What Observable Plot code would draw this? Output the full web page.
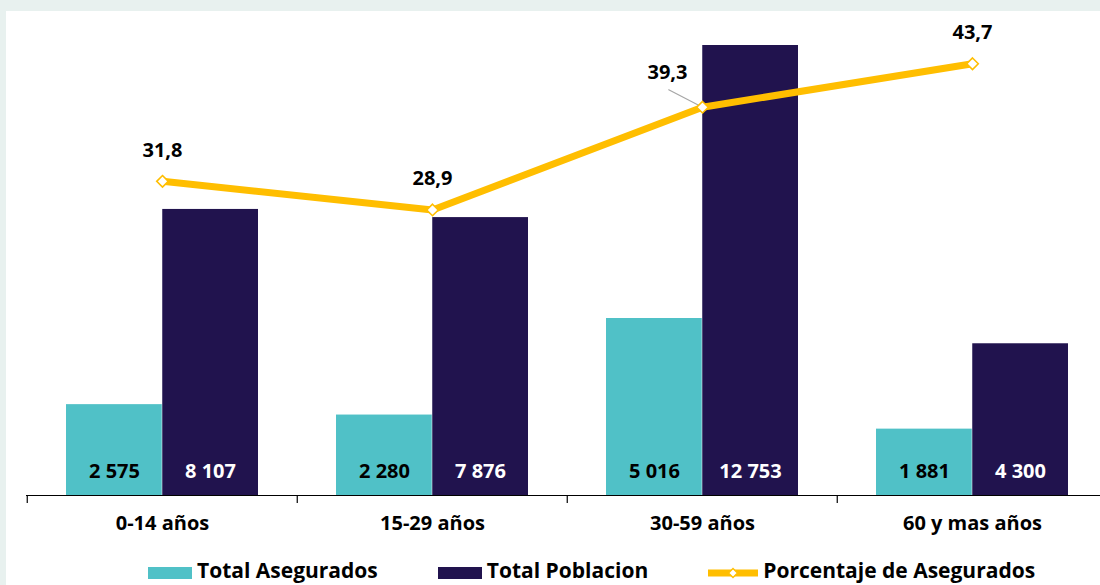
<!DOCTYPE html>
<html>
<head>
<meta charset="utf-8">
<script src="https://cdn.jsdelivr.net/npm/d3@7"></script>
<script src="https://cdn.jsdelivr.net/npm/@observablehq/plot@0.6"></script>
<style>
  html, body { margin: 0; padding: 0; }
  body {
    width: 1100px; height: 585px; position: relative; overflow: hidden;
    background: #e8f1ef; font-family: "Open Sans", sans-serif;
  }
  #panel { position: absolute; left: 6px; top: 11px; right: 0; bottom: 0; background: #fff; }
  #chart { position: absolute; left: 0; top: 0; }
  #legend {
    position: absolute; left: 148px; top: 559px; height: 22px;
    display: flex; align-items: center; gap: 60px;
    font-size: 21px; font-weight: 700; color: #000; line-height: 22px; white-space: nowrap;
  }
  .item { display: flex; align-items: center; gap: 5px; }
  .sw { width: 44px; height: 12px; margin-top: 6px; }
  .sw-line { width: 50px; height: 12px; margin-top: 6px; }
</style>
</head>
<body>
<div id="panel"></div>
<div id="chart"></div>
<div id="legend"></div>
<script>
// Age groups and their values (thousands of people)
const categories = ["0-14 años", "15-29 años", "30-59 años", "60 y mas años"];
const asegurados = [2575, 2280, 5016, 1881];
const poblacion = [8107, 7876, 12753, 4300];
const porcentaje = [31.8, 28.9, 39.3, 43.7];

const seriesNames = ["Total Asegurados", "Total Poblacion", "Porcentaje de Asegurados"];
const colors = { aseg: "#50c1c7", pob: "#21134e", pct: "#ffbe00" };

// Left (people) axis and right (percent) axis share the baseline
const yMax = 14000;
const pctMax = 50;
const toY = p => p * yMax / pctMax;

const rows = categories.map((cat, i) => ({
  cat, aseg: asegurados[i], pob: poblacion[i], pct: porcentaje[i]
}));

const loc = d3.formatLocale({ decimal: ",", thousands: " ", grouping: [3], currency: ["", ""] });
const fmtNum = loc.format(",d");
const fmtPct = loc.format(".1f");

const W = 1100, H = 545;
const bandLeft = 26, bandRight = 1108;
const half = (bandRight - bandLeft) / categories.length / 2;

const bold = { fontWeight: 700, fontSize: 20 };

const chart = Plot.plot({
  width: W,
  height: H,
  marginLeft: bandLeft,
  marginRight: 0,
  marginTop: 1,
  marginBottom: 50,
  style: { fontFamily: "Open Sans", background: "transparent", overflow: "hidden" },
  x: { domain: categories, range: [bandLeft, bandRight], paddingInner: 0, paddingOuter: 0, axis: null },
  y: { domain: [0, yMax], axis: null },
  marks: [
    // paired bars inside each age band
    Plot.barY(rows, { x: "cat", y: "aseg", fill: colors.aseg, insetLeft: 39, insetRight: half }),
    Plot.barY(rows, { x: "cat", y: "pob", fill: colors.pob, insetLeft: half, insetRight: 39 }),
    // value labels at the foot of each bar
    Plot.text(rows, { x: "cat", y: () => 0, text: d => fmtNum(d.aseg), dx: -48, dy: -24, fill: "#000", ...bold }),
    Plot.text(rows, { x: "cat", y: () => 0, text: d => fmtNum(d.pob), dx: 48, dy: -24, fill: "#fff", ...bold }),
    // baseline and band separators
    Plot.ruleY([0], { stroke: "#000", strokeWidth: 1.2 }),
    Plot.axisX({ tickSize: 8, tickFormat: () => "", label: null, dx: -half, stroke: "#000", strokeWidth: 1.2 }),
    Plot.text(categories, { x: d => d, y: () => 0, dy: 28.5, fill: "#000", ...bold }),
    // insured share line
    Plot.line(rows, { x: "cat", y: d => toY(d.pct), stroke: colors.pct, strokeWidth: 7 }),
    Plot.vector(rows.filter(d => d.cat === "30-59 años"), {
      x: "cat", y: d => toY(d.pct), length: 38, rotate: 117.3, anchor: "end",
      stroke: "#a6a6a6", strokeWidth: 1.2,
      shape: { draw(context, l) { context.moveTo(0, 0); context.lineTo(0, -l); } }
    }),
    Plot.dot(rows, { x: "cat", y: d => toY(d.pct), symbol: "diamond2", r: 5.2, fill: "#fff", stroke: colors.pct, strokeWidth: 1.6 }),
    Plot.text(rows.filter(d => d.cat !== "30-59 años"), { x: "cat", y: d => toY(d.pct), text: d => fmtPct(d.pct), dy: -31, fill: "#000", ...bold }),
    Plot.text(rows.filter(d => d.cat === "30-59 años"), { x: "cat", y: d => toY(d.pct), text: d => fmtPct(d.pct), dx: -35, dy: -35, fill: "#000", ...bold })
  ]
});
document.getElementById("chart").appendChild(chart);

// legend below the chart
const legend = d3.select("#legend");
const items = [
  { name: seriesNames[0], kind: "bar", color: colors.aseg },
  { name: seriesNames[1], kind: "bar", color: colors.pob },
  { name: seriesNames[2], kind: "line", color: colors.pct }
];
items.forEach(it => {
  const item = legend.append("div").attr("class", "item");
  if (it.kind === "bar") {
    item.append("div").attr("class", "sw").style("background", it.color);
  } else {
    const svg = item.append("svg").attr("class", "sw-line").attr("width", 50).attr("height", 12);
    svg.append("line").attr("x1", 0).attr("x2", 50).attr("y1", 6).attr("y2", 6)
      .attr("stroke", it.color).attr("stroke-width", 7).attr("stroke-linecap", "round");
    svg.append("path").attr("d", "M25,1.5L29.5,6L25,10.5L20.5,6Z")
      .attr("fill", "#fff").attr("stroke", it.color).attr("stroke-width", 1.4);
  }
  item.append("span").text(it.name);
});
</script>
</body>
</html>
